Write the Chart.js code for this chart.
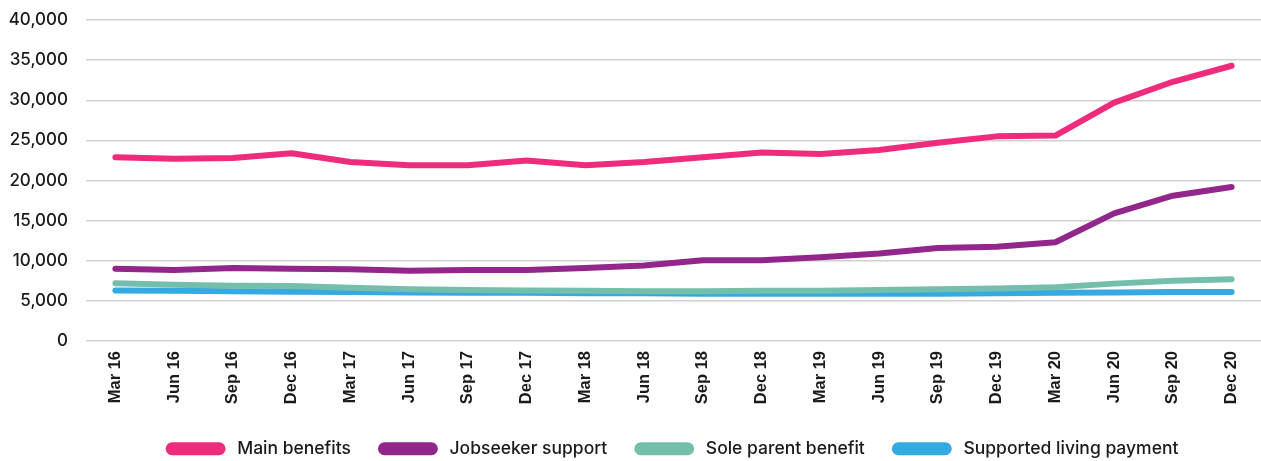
<!DOCTYPE html>
<html>
<head>
<meta charset="utf-8">
<script src="https://cdn.jsdelivr.net/npm/chart.js@4/dist/chart.umd.min.js"></script>
<style>
  html, body { margin: 0; padding: 0; background: #fff; }
  #wrap { width: 1261px; height: 461px; }
</style>
</head>
<body>
<div id="wrap"><canvas id="chart"></canvas></div>
<script>
const quarters = ["Mar 16", "Jun 16", "Sep 16", "Dec 16", "Mar 17", "Jun 17", "Sep 17", "Dec 17",
    "Mar 18", "Jun 18", "Sep 18", "Dec 18", "Mar 19", "Jun 19", "Sep 19", "Dec 19",
    "Mar 20", "Jun 20", "Sep 20", "Dec 20"];

const mainBenefits = [22900, 22700, 22800, 23400, 22300, 21900, 21900, 22500, 21900, 22300,
    22900, 23500, 23300, 23800, 24700, 25500, 25600, 29700, 32300, 34300];
const jobseekerSupport = [9000, 8850, 9100, 9000, 8950, 8750, 8850, 8850, 9100, 9400,
    10050, 10050, 10450, 10900, 11600, 11750, 12300, 15900, 18100, 19200];
const soleParent = [7200, 7000, 6900, 6850, 6650, 6450, 6350, 6300, 6250, 6200,
    6200, 6250, 6250, 6350, 6450, 6550, 6700, 7150, 7500, 7700];
const supportedLiving = [6300, 6250, 6200, 6150, 6100, 6050, 6000, 6000, 5950, 5950,
    5900, 5900, 5900, 5900, 5900, 5950, 6000, 6050, 6100, 6100];

document.addEventListener("DOMContentLoaded", function () {
    const ctx = document.getElementById("chart").getContext("2d");

    function series(label, data, colour) {
        return {
            label: label,
            data: data,
            borderColor: colour,
            backgroundColor: colour,
            borderWidth: 6,
            borderCapStyle: "round",
            borderJoinStyle: "round",
            pointRadius: 0,
            tension: 0,
            fill: false,
        };
    }

    new Chart(ctx, {
        type: "line",
        data: {
            labels: quarters,
            datasets: [
                series("Main benefits", mainBenefits, "#ee2c7b"),
                series("Jobseeker support", jobseekerSupport, "#93268b"),
                series("Sole parent benefit", soleParent, "#74bfab"),
                series("Supported living payment", supportedLiving, "#35a9e1"),
            ],
        },
        options: {
            responsive: true,
            maintainAspectRatio: false,
            animation: false,
            layout: { padding: { top: 20, right: 0, left: 9, bottom: 0 } },
            plugins: {
                tooltip: { enabled: false },
                legend: {
                    position: "bottom",
                    fullSize: false,
                    maxHeight: 51,
                    labels: {
                        boxWidth: 54,
                        boxHeight: 7,
                        useBorderRadius: true,
                        borderRadius: 3.5,
                        padding: 30,
                        color: "#1a1a1a",
                        font: { family: "Inter", size: 17.5, weight: "500" },
                        generateLabels: function (chart) {
                            const items = Chart.defaults.plugins.legend.labels.generateLabels(chart);
                            items.forEach(function (it) { it.text = "\u2004" + it.text; });
                            return items;
                        },
                    },
                },
            },
            scales: {
                x: {
                    offset: true,
                    grid: { display: false, drawTicks: false },
                    border: { display: false },
                    afterFit: function (scale) {
                        scale.height = 69;
                        scale.paddingLeft = 0;
                        scale.paddingRight = 0;
                    },
                    ticks: {
                        maxRotation: 90,
                        minRotation: 90,
                        autoSkip: false,
                        padding: 10,
                        color: "#1a1a1a",
                        font: { family: "Liberation Sans", size: 16.5, weight: "bold" },
                    },
                },
                y: {
                    min: 0,
                    max: 40000,
                    border: { display: false },
                    grid: { color: "#d0d0d0", lineWidth: 1.5, drawTicks: false },
                    afterFit: function (scale) {
                        scale.width = 77;
                        scale.paddingTop = 0;
                        scale.paddingBottom = 0;
                    },
                    ticks: {
                        stepSize: 5000,
                        padding: 18,
                        color: "#1a1a1a",
                        font: { family: "Inter", size: 17, weight: "500" },
                        callback: function (v) { return v.toLocaleString("en-US"); },
                    },
                },
            },
        },
    });
});
</script>
</body>
</html>
